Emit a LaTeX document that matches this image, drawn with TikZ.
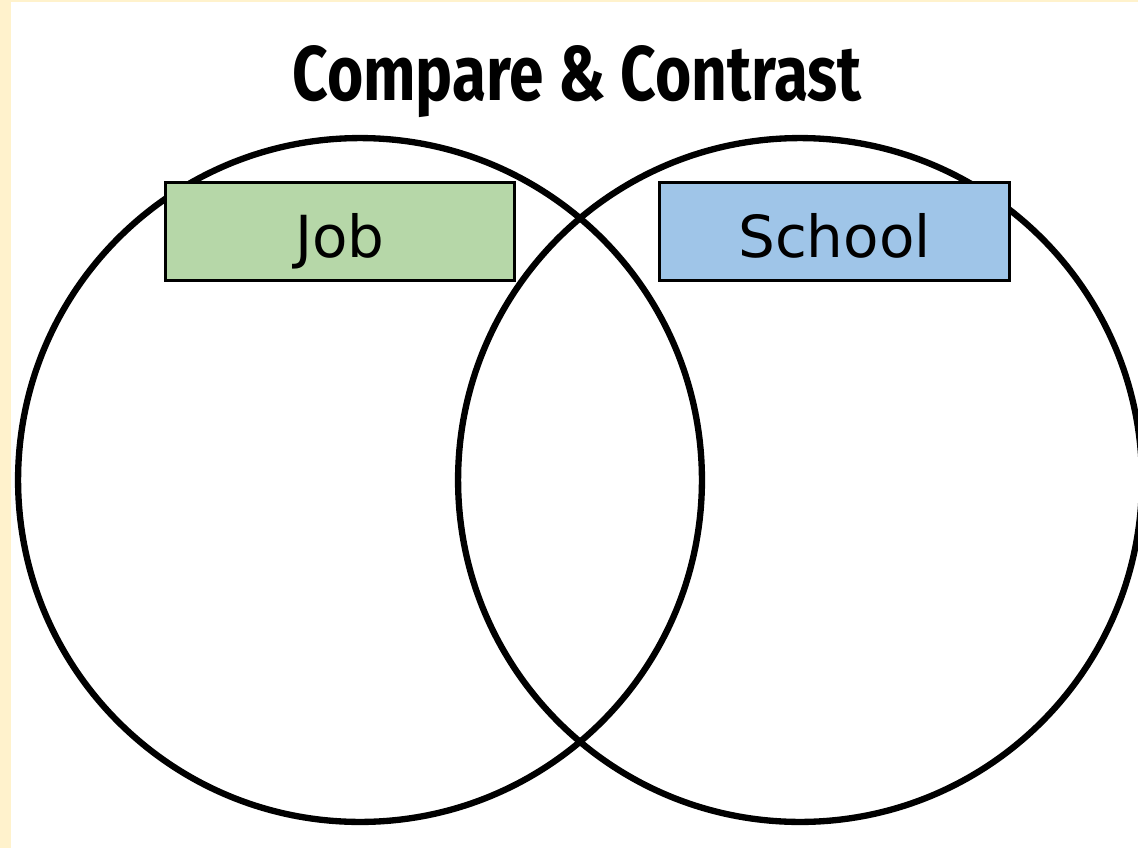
\documentclass[tikz,border=0pt]{standalone}
\usepackage{fontspec}
\usepackage{graphicx}
\setmainfont{DejaVu Sans}
\newfontfamily\titlefont{Fira Sans}
\usetikzlibrary{positioning}
\definecolor{cream}{HTML}{FFF2CC}
\definecolor{jobgreen}{HTML}{B6D7A8}
\definecolor{schoolblue}{HTML}{9FC5E8}
\begin{document}
\begin{tikzpicture}
	[x=0.02cm,y=-0.02cm,
	every node/.style={inner sep=0pt,outer sep=0},
	ring/.style={shape=circle,draw,line width=3.6pt,minimum size=13.68cm},
	tag/.style={shape=rectangle,draw,line width=1.7pt,minimum width=7cm,
		minimum height=1.98cm,text height=1.04cm,text depth=0pt,
		font=\fontsize{33}{38}\selectfont}]
	\def\yc{480}\def\ytag{231.5}
	\fill[cream] (0,0) rectangle (1138,848);
	\fill[white] (11,2) rectangle (1138,848);
	\useasboundingbox (0,0) rectangle (1138,848);
	\node[ring] (cjob)    at (360, \yc) {} ;
	\node[ring] (cschool) at (800, \yc) {} ;
	\node[tag,fill=jobgreen]   (job)    at (340, \ytag)   {Job} ;
	\node[tag,fill=schoolblue] (school) at (834.5, \ytag) {School} ;
	\node[anchor=base] (title) at (577, 100)
		{\resizebox{11.38cm}{1.1cm}{\titlefont\bfseries Compare \& Contrast}} ;
\end{tikzpicture}
\end{document}
